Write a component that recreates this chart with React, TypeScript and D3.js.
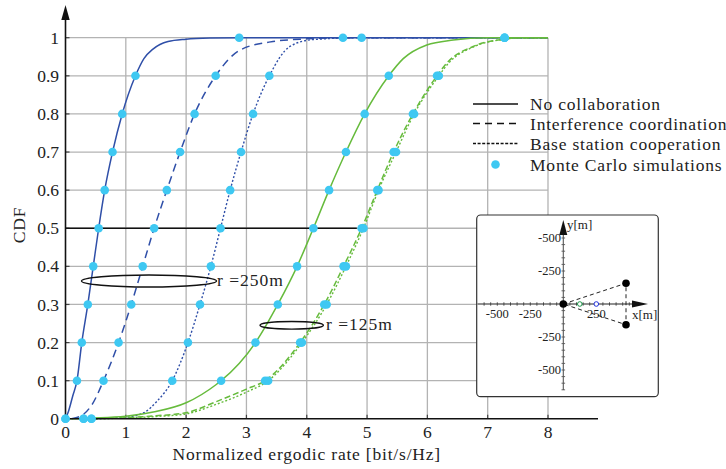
import React from "react";
import * as d3 from "d3";

// ---------- data ----------
const levels = [0, 0.1, 0.2, 0.3, 0.4, 0.5, 0.6, 0.7, 0.8, 0.9, 1];
const xTicks = [0, 1, 2, 3, 4, 5, 6, 7, 8];
const yTicks = [0, 0.1, 0.2, 0.3, 0.4, 0.5, 0.6, 0.7, 0.8, 0.9, 1];

// analytical curves (x = rate, y = CDF)
const blueSolidX = [0, 0.05, 0.12, 0.19, 0.27, 0.37, 0.46, 0.55, 0.65, 0.78, 0.94, 1.16, 1.3, 1.45, 1.7, 2.0, 2.4, 2.9, 8];
const blueSolidY = [0, 0.02, 0.06, 0.1, 0.2, 0.3, 0.4, 0.5, 0.6, 0.7, 0.8, 0.9, 0.945, 0.97, 0.99, 0.996, 0.999, 1, 1];
const blueDashX = [0.1, 0.3, 0.45, 0.63, 0.88, 1.09, 1.28, 1.47, 1.68, 1.9, 2.14, 2.49, 2.9, 3.44, 4.0, 4.6, 8];
const blueDashY = [0, 0.012, 0.04, 0.1, 0.2, 0.3, 0.4, 0.5, 0.6, 0.7, 0.8, 0.9, 0.968, 0.99, 0.997, 1, 1];
const blueDotX = [0.5, 1.0, 1.3, 1.51, 1.77, 2.03, 2.23, 2.41, 2.57, 2.73, 2.91, 3.11, 3.38, 3.72, 4.1, 4.91, 8];
const blueDotY = [0, 0.004, 0.016, 0.045, 0.1, 0.2, 0.3, 0.4, 0.5, 0.6, 0.7, 0.8, 0.9, 0.977, 0.995, 1, 1];
const greenSolidX = [0, 1, 1.5, 2, 2.5, 2.58, 3.15, 3.52, 3.84, 4.11, 4.37, 4.65, 4.96, 5.36, 5.6, 5.99, 6.43, 7.0, 8];
const greenSolidY = [0, 0.007, 0.019, 0.042, 0.09, 0.1, 0.2, 0.3, 0.4, 0.5, 0.6, 0.7, 0.8, 0.9, 0.945, 0.981, 0.994, 1, 1];
const greenDashX = [0.3, 1, 1.5, 2, 2.5, 3.0, 3.31, 3.89, 4.29, 4.61, 4.91, 5.17, 5.44, 5.76, 6.16, 6.32, 6.76, 7.26, 7.6, 8];
const greenDashY = [0, 0.003, 0.008, 0.016, 0.045, 0.078, 0.1, 0.2, 0.3, 0.4, 0.5, 0.6, 0.7, 0.8, 0.9, 0.933, 0.977, 0.996, 1, 1];
const greenDotX = [0.3, 1, 1.5, 2, 2.5, 3.0, 3.36, 3.92, 4.33, 4.65, 4.94, 5.19, 5.48, 5.78, 6.19, 6.35, 6.78, 7.28, 7.6, 8];
const greenDotY = [0, 0.002, 0.006, 0.013, 0.038, 0.07, 0.1, 0.2, 0.3, 0.4, 0.5, 0.6, 0.7, 0.8, 0.9, 0.933, 0.977, 0.996, 1, 1];

// Monte Carlo markers at CDF levels 0..1
const mcBlueSolid = [0, 0.19, 0.27, 0.37, 0.46, 0.55, 0.65, 0.78, 0.94, 1.16, 2.88];
const mcBlueDash = [0.3, 0.63, 0.88, 1.09, 1.28, 1.47, 1.68, 1.9, 2.14, 2.49, 4.6];
const mcBlueDot = [0.43, 1.77, 2.03, 2.23, 2.41, 2.57, 2.73, 2.91, 3.11, 3.38, 4.91];
const mcGreenSolid = [0, 2.58, 3.15, 3.52, 3.84, 4.11, 4.37, 4.65, 4.96, 5.36, 7.28];
const mcGreenDash = [0.3, 3.31, 3.89, 4.29, 4.61, 4.91, 5.17, 5.44, 5.76, 6.16, 7.28];
const mcGreenDot = [0.43, 3.36, 3.92, 4.33, 4.65, 4.94, 5.19, 5.48, 5.78, 6.19, 7.28];

// no collaboration reference line at CDF 0.5
const refLineX = [0, 4.83];
const refLineY = [0.5, 0.5];

const legendLabels = ["No collaboration", "Interference coordination", "Base station cooperation", "Monte Carlo simulations"];

// inset geometry (metres)
const insetTicksX = [-500, -250, 250];
const insetTicksY = [500, 250, -250, -500];
const insetTickLabelsY = ["-500", "-250", "-250", "-500"];
const bsX = [0, 475, 475];
const bsY = [0, 157, -157];
const userGreen = [125, 0];
const userBlue = [250, 0];

// ---------- styling ----------
const BLUE = "#2f4fa8";
const GREEN = "#66bb3c";
const CYAN = "#3ec8f2";
const FONT = "'Liberation Serif', 'Times New Roman', serif";

export default function App() {
  const W = 726, H = 469;
  const x = d3.scaleLinear().domain([0, 8]).range([65.5, 548]);
  const y = d3.scaleLinear().domain([0, 1]).range([418.8, 37.7]);

  const mk = (xs: number[], ys: number[]) =>
    d3.line<number>().x((_, i) => x(xs[i])).y((_, i) => y(ys[i])).curve(d3.curveMonotoneX)(xs) || "";

  const curves = [
    { xs: blueSolidX, ys: blueSolidY, c: BLUE, dash: "", w: 1.5 },
    { xs: blueDashX, ys: blueDashY, c: BLUE, dash: "8,5", w: 1.5 },
    { xs: blueDotX, ys: blueDotY, c: BLUE, dash: "2,2", w: 1.4 },
    { xs: greenSolidX, ys: greenSolidY, c: GREEN, dash: "", w: 1.5 },
    { xs: greenDashX, ys: greenDashY, c: GREEN, dash: "6,3", w: 1.5 },
    { xs: greenDotX, ys: greenDotY, c: GREEN, dash: "2,2", w: 1.4 },
  ];
  const markers = [mcBlueSolid, mcBlueDash, mcBlueDot, mcGreenSolid, mcGreenDash, mcGreenDot];

  // inset scales
  const ox = 563.3, oy = 304;
  const k = 33 / 250;
  const ix = d3.scaleLinear().domain([0, 1]).range([ox, ox + k]);
  const iy = d3.scaleLinear().domain([0, 1]).range([oy, oy - k]);
  const minorT = d3.range(-650, 651, 50);
  const minorTy = d3.range(-650, 651, 50);

  const legendX1 = 473, legendX2 = 518, legendTextX = 530;
  const legendRows = [104, 123.5, 143.5, 164.5];
  const legendDash = ["", "7,5", "3,1.6", ""];
  const FS = 17.5;
  const LS = 0.8;

  return (
    <svg width={W} height={H} style={{ position: "absolute", left: 0, top: 0, background: "#fff" }} fontFamily={FONT}>
      {/* grid */}
      {xTicks.filter((t) => t > 0).map((t) => (
        <line key={"gx" + t} x1={x(t)} x2={x(t)} y1={y(0)} y2={y(1)} stroke="#b3b3b3" strokeWidth={1.3} />
      ))}
      {yTicks.filter((t) => t > 0).map((t) => (
        <line key={"gy" + t} x1={x(0)} x2={x(8)} y1={y(t)} y2={y(t)} stroke="#b3b3b3" strokeWidth={1.3} />
      ))}
      {/* small ticks */}
      {xTicks.map((t) => (
        <line key={"tx" + t} x1={x(t)} x2={x(t)} y1={y(0)} y2={y(0) - 4} stroke="#444" strokeWidth={1.2} />
      ))}
      {yTicks.map((t) => (
        <line key={"ty" + t} x1={x(0)} x2={x(0) + 4} y1={y(t)} y2={y(t)} stroke="#444" strokeWidth={1.2} />
      ))}

      {/* reference line */}
      <line x1={x(refLineX[0])} x2={x(refLineX[1])} y1={y(refLineY[0])} y2={y(refLineY[1])} stroke="#111" strokeWidth={1.5} />

      {/* curves */}
      {curves.map((c, i) => (
        <path key={"c" + i} d={mk(c.xs, c.ys)} fill="none" stroke={c.c} strokeWidth={c.w} strokeDasharray={c.dash || undefined} />
      ))}

      {/* axes */}
      <line x1={x(0)} x2={598} y1={y(0)} y2={y(0)} stroke="#111" strokeWidth={1.6} />
      <line x1={x(0)} x2={x(0)} y1={y(0)} y2={14} stroke="#111" strokeWidth={1.6} />
      <path d={`M${x(0)},5 L${x(0) - 4.2},20 L${x(0) + 4.2},20 Z`} fill="#111" />

      {/* markers */}
      {markers.map((m, j) =>
        m.map((v, i) => <circle key={"m" + j + "_" + i} cx={x(v)} cy={y(levels[i])} r={4.3} fill={CYAN} />)
      )}

      {/* tick labels */}
      {xTicks.map((t) => (
        <text key={"lx" + t} x={x(t)} y={438} fontSize={FS} textAnchor="middle" fill="#222">{t}</text>
      ))}
      {yTicks.map((t) => (
        <text key={"ly" + t} x={59} y={y(t)} dy="0.35em" fontSize={FS} textAnchor="end" fill="#222">{t === 0 ? "0" : t === 1 ? "1" : d3.format(".1f")(t)}</text>
      ))}
      <text x={x(4)} y={460} fontSize={FS} letterSpacing={LS} textAnchor="middle" fill="#222">Normalized ergodic rate [bit/s/Hz]</text>
      <text transform={`translate(25,225) rotate(-90)`} fontSize={FS} letterSpacing={LS} textAnchor="middle" fill="#222">CDF</text>

      {/* annotations */}
      <ellipse cx={149} cy={281} rx={67.5} ry={6} fill="none" stroke="#111" strokeWidth={1.4} />
      <text x={217} y={286} fontSize={FS} letterSpacing={1} fill="#222">r =250m</text>
      <ellipse cx={291.7} cy={325.3} rx={31.7} ry={3.8} fill="none" stroke="#111" strokeWidth={1.4} />
      <text x={326} y={330} fontSize={FS} letterSpacing={1} fill="#222">r =125m</text>

      {/* legend */}
      {legendLabels.map((lab, i) => (
        <g key={"lg" + i}>
          {i < 3 ? (
            <line x1={legendX1} x2={legendX2} y1={legendRows[i]} y2={legendRows[i]} stroke="#111" strokeWidth={1.4} strokeDasharray={legendDash[i] || undefined} />
          ) : (
            <circle cx={(legendX1 + legendX2) / 2} cy={legendRows[i]} r={4.3} fill={CYAN} />
          )}
          <text x={legendTextX} y={legendRows[i]} dy="0.35em" fontSize={FS} letterSpacing={LS} fill="#222">{lab}</text>
        </g>
      ))}

      {/* inset */}
      <rect x={476.7} y={215} width={181.6} height={181.7} rx={4} fill="#fff" stroke="#333" strokeWidth={1.2} />
      {minorT.filter((t) => ix(t) > 478 && ix(t) < 640).map((t) => (
        <line key={"itx" + t} x1={ix(t)} x2={ix(t)} y1={oy - 1.8} y2={oy + 1.8} stroke="#444" strokeWidth={0.8} />
      ))}
      {minorTy.filter((t) => iy(t) > 232 && iy(t) < 390).map((t) => (
        <line key={"ity" + t} x1={ox - 1.8} x2={ox + 1.8} y1={iy(t)} y2={iy(t)} stroke="#444" strokeWidth={0.8} />
      ))}
      <line x1={477.5} x2={640} y1={oy} y2={oy} stroke="#222" strokeWidth={1.1} />
      <line x1={ox} x2={ox} y1={390} y2={228} stroke="#555" strokeWidth={1.1} />
      <path d={`M648,${oy} L632,${oy - 3.6} L632,${oy + 3.6} Z`} fill="#111" />
      <path d={`M${ox},220 L${ox - 4},235 L${ox + 4},235 Z`} fill="#111" />
      {/* dashed cell edges */}
      <path d={`M${ix(bsX[0])},${iy(bsY[0])} L${ix(bsX[1])},${iy(bsY[1])} L${ix(bsX[2])},${iy(bsY[2])} Z`} fill="none" stroke="#222" strokeWidth={1} strokeDasharray="4,3" />
      {bsX.map((bx, i) => (
        <circle key={"bs" + i} cx={ix(bx)} cy={iy(bsY[i])} r={3.8} fill="#000" />
      ))}
      <circle cx={ix(userGreen[0])} cy={iy(userGreen[1])} r={2.3} fill="#fff" stroke="#1a9a4a" strokeWidth={1} />
      <circle cx={ix(userBlue[0])} cy={iy(userBlue[1])} r={2.3} fill="#fff" stroke="#2233dd" strokeWidth={1} />
      {insetTicksX.map((t) => (
        <text key={"ilx" + t} x={ix(t)} y={318} fontSize={12.5} textAnchor="middle" fill="#222">{t < 0 ? "-" + Math.abs(t) : String(t)}</text>
      ))}
      {insetTicksY.map((t, i) => (
        <text key={"ily" + i} x={561} y={iy(t)} dy="0.35em" fontSize={12.5} textAnchor="end" fill="#222">{insetTickLabelsY[i]}</text>
      ))}
      <text x={567} y={229} fontSize={13} fill="#222">y[m]</text>
      <text x={632} y={319} fontSize={13} fill="#222">x[m]</text>
    </svg>
  );
}
